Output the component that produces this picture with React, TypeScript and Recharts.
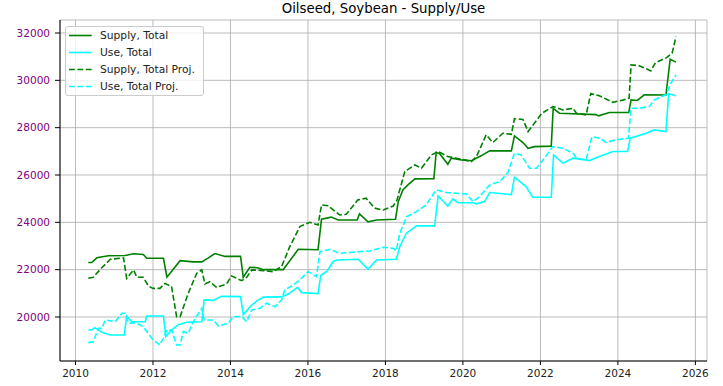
import React from "react";
import { LineChart, Line, XAxis, YAxis, CartesianGrid } from "recharts";

const xTicks = [2010, 2012, 2014, 2016, 2018, 2020, 2022, 2024, 2026];
const yTicks = [20000, 22000, 24000, 26000, 28000, 30000, 32000];

const supplyTotal: [number, number][] = [
  [2010.33, 22300], [2010.42, 22300], [2010.55, 22500], [2010.85, 22590], [2011.28, 22600],
  [2011.5, 22670], [2011.75, 22640], [2011.84, 22480], [2012.27, 22480], [2012.36, 21680],
  [2012.7, 22380], [2013.04, 22330], [2013.26, 22330], [2013.43, 22500], [2013.6, 22680],
  [2013.86, 22560], [2014.26, 22560], [2014.33, 21680], [2014.5, 22100], [2014.7, 22080],
  [2014.85, 22000], [2015.36, 22000], [2015.75, 22860], [2016.26, 22840], [2016.35, 24130],
  [2016.6, 24220], [2016.78, 24100], [2017.27, 24100], [2017.33, 24355], [2017.55, 24020],
  [2017.77, 24100], [2018.26, 24130], [2018.33, 24870], [2018.45, 25370], [2018.58, 25580],
  [2018.76, 25835], [2019.25, 25840], [2019.31, 26960], [2019.4, 26900], [2019.61, 26455],
  [2019.7, 26710], [2019.96, 26640], [2020.22, 26600], [2020.47, 26810], [2020.69, 27020],
  [2021.25, 27020], [2021.33, 27650], [2021.55, 27370], [2021.68, 27130], [2021.85, 27200],
  [2022.28, 27220], [2022.33, 28820], [2022.49, 28610], [2023.44, 28550], [2023.5, 28500],
  [2023.78, 28640], [2024.28, 28640], [2024.34, 29175], [2024.5, 29150], [2024.68, 29390],
  [2025.24, 29380], [2025.35, 30895], [2025.5, 30770],
];

const useTotal: [number, number][] = [
  [2010.33, 19450], [2010.42, 19450], [2010.5, 19550], [2010.68, 19350], [2010.9, 19240],
  [2011.26, 19240], [2011.32, 20040], [2011.45, 19800], [2011.8, 19800], [2011.84, 20040],
  [2012.27, 20040], [2012.33, 19170], [2012.48, 19450], [2012.65, 19675], [2012.87, 19775],
  [2013.26, 19800], [2013.32, 20720], [2013.55, 20700], [2013.77, 20870], [2014.26, 20860],
  [2014.33, 20100], [2014.55, 20505], [2014.7, 20700], [2014.85, 20840], [2015.32, 20850],
  [2015.5, 20980], [2015.73, 21255], [2015.84, 21030], [2016.26, 20990], [2016.33, 21750],
  [2016.5, 21950], [2016.65, 22350], [2016.75, 22410], [2017.3, 22440], [2017.55, 22015],
  [2017.77, 22410], [2018.28, 22440], [2018.37, 22970], [2018.54, 23540], [2018.8, 23850],
  [2019.27, 23850], [2019.36, 25115], [2019.61, 24690], [2019.74, 24990], [2019.87, 24830],
  [2020.26, 24830], [2020.35, 24780], [2020.56, 24875], [2020.69, 25260], [2021.25, 25170],
  [2021.33, 25905], [2021.63, 25510], [2021.8, 25060], [2022.28, 25060], [2022.34, 26850],
  [2022.58, 26500], [2022.84, 26710], [2023.27, 26610], [2023.52, 26780], [2023.87, 26990],
  [2024.25, 26990], [2024.32, 27555], [2024.73, 27765], [2024.94, 27905], [2025.24, 27835],
  [2025.31, 29430], [2025.5, 29345],
];

const supplyProj: [number, number][] = [
  [2010.33, 21635], [2010.46, 21680], [2010.64, 22015], [2010.9, 22440], [2011.24, 22500],
  [2011.32, 21635], [2011.5, 21990], [2011.58, 21680], [2011.75, 21680], [2011.88, 21310],
  [2012.0, 21210], [2012.18, 21210], [2012.31, 21420], [2012.48, 21280], [2012.61, 20015],
  [2012.7, 20015], [2012.91, 21000], [2013.13, 21850], [2013.26, 21990], [2013.34, 21395],
  [2013.47, 21490], [2013.64, 21255], [2013.9, 21395], [2014.03, 21735], [2014.29, 21535],
  [2014.42, 21680], [2014.55, 21990], [2014.85, 21960], [2015.1, 21915], [2015.32, 22130],
  [2015.53, 22970], [2015.79, 23820], [2016.05, 24000], [2016.26, 23890], [2016.35, 24735],
  [2016.52, 24700], [2016.82, 24310], [2016.99, 24340], [2017.29, 24950], [2017.5, 25020],
  [2017.72, 24600], [2017.94, 24520], [2018.2, 24690], [2018.3, 24950], [2018.5, 26150],
  [2018.76, 26425], [2018.93, 26285], [2019.19, 26850], [2019.36, 26990], [2019.61, 26780],
  [2019.83, 26710], [2020.22, 26570], [2020.35, 26780], [2020.6, 27700], [2020.77, 27370],
  [2021.03, 27765], [2021.25, 27720], [2021.33, 28380], [2021.55, 28350], [2021.68, 27835],
  [2022.04, 28610], [2022.32, 28890], [2022.58, 28750], [2022.84, 28820], [2022.93, 28610],
  [2023.18, 28540], [2023.3, 29440], [2023.52, 29350], [2023.87, 29070], [2024.15, 29175],
  [2024.29, 29250], [2024.34, 30655], [2024.55, 30615], [2024.85, 30400], [2024.97, 30750],
  [2025.25, 30950], [2025.4, 31150], [2025.5, 31850],
];

const useProj: [number, number][] = [
  [2010.33, 18915], [2010.46, 18950], [2010.59, 19520], [2010.68, 19520], [2010.77, 19875],
  [2011.02, 19800], [2011.2, 20155], [2011.28, 20155], [2011.37, 19735], [2011.54, 19760],
  [2011.75, 19590], [2011.97, 19100], [2012.17, 18815], [2012.27, 19100], [2012.36, 19450],
  [2012.48, 19450], [2012.61, 18815], [2012.7, 18815], [2012.78, 19380], [2012.91, 19310],
  [2013.04, 19800], [2013.26, 20365], [2013.32, 19875], [2013.56, 19875], [2013.69, 19620],
  [2013.94, 19735], [2014.07, 20015], [2014.29, 20015], [2014.42, 19800], [2014.55, 20295],
  [2014.76, 20365], [2014.93, 20580], [2015.15, 20435], [2015.32, 20720], [2015.4, 21140],
  [2015.62, 21350], [2015.79, 21565], [2016.0, 21915], [2016.22, 21705], [2016.31, 22760],
  [2016.57, 22860], [2016.82, 22690], [2017.05, 22720], [2017.33, 22760], [2017.6, 22790],
  [2017.94, 22945], [2018.2, 22900], [2018.28, 22800], [2018.37, 23540], [2018.55, 24240],
  [2018.8, 24450], [2019.05, 24735], [2019.31, 25370], [2019.57, 25260], [2019.83, 25230],
  [2020.09, 25200], [2020.26, 24875], [2020.43, 25085], [2020.69, 25580], [2020.95, 25720],
  [2021.16, 26100], [2021.33, 26920], [2021.5, 26850], [2021.72, 26285], [2021.9, 26285],
  [2022.1, 26710], [2022.32, 27200], [2022.58, 27130], [2022.84, 26920], [2022.93, 26710],
  [2023.18, 26640], [2023.33, 27625], [2023.52, 27555], [2023.7, 27380], [2023.95, 27485],
  [2024.27, 27555], [2024.34, 28820], [2024.55, 28820], [2024.81, 28890], [2024.94, 29175],
  [2025.24, 29390], [2025.37, 29880], [2025.5, 30230],
];

const series = [
  { name: "Supply, Total", data: supplyTotal, color: "#008000", dash: undefined as string | undefined },
  { name: "Use, Total", data: useTotal, color: "#00ffff", dash: undefined as string | undefined },
  { name: "Supply, Total Proj.", data: supplyProj, color: "#008000", dash: "5.9 2.5" },
  { name: "Use, Total Proj.", data: useProj, color: "#00ffff", dash: "5.9 2.5" },
];

const FONT = "'DejaVu Sans', 'Liberation Sans', sans-serif";
const TICK_FONT = 10.5;

export default function App() {
  return (
    <div style={{ position: "absolute", left: 0, top: 0, width: 723, height: 386, background: "#fff", fontFamily: FONT }}>
      <div style={{ position: "absolute", top: 1, left: 60, width: 647, textAlign: "center", fontSize: 13.3, lineHeight: "16px", color: "#000", whiteSpace: "nowrap" }}>
        Oilseed, Soybean - Supply/Use
      </div>
      <LineChart width={723} height={386} margin={{ top: 20, right: 16, bottom: 0, left: 0 }}>
        <CartesianGrid stroke="#b0b0b0" strokeWidth={0.85} />
        <XAxis
          dataKey="t"
          type="number"
          domain={[2009.6, 2026.3]}
          allowDataOverflow
          ticks={xTicks}
          height={25}
          tickSize={4}
          tickMargin={5}
          stroke="#000"
          tick={{ fill: "#222", fontSize: TICK_FONT, fontFamily: FONT }}
          tickLine={{ stroke: "#000" }}
          axisLine={{ stroke: "#000", strokeWidth: 1 }}
        />
        <XAxis xAxisId="top" orientation="top" type="number" domain={[2009.6, 2026.3]} height={0} tick={false} tickLine={false} axisLine={{ stroke: "#000", strokeWidth: 1 }} />
        <YAxis
          type="number"
          domain={[18140, 32550]}
          allowDataOverflow
          ticks={yTicks}
          width={60}
          tickSize={5}
          tickMargin={5}
          tick={{ fill: "#800080", fontSize: TICK_FONT, fontFamily: FONT }}
          tickLine={{ stroke: "#000" }}
          axisLine={{ stroke: "#000", strokeWidth: 1 }}
        />
        <YAxis yAxisId="right" orientation="right" type="number" domain={[18140, 32550]} width={0} tick={false} tickLine={false} axisLine={{ stroke: "#000", strokeWidth: 1 }} />
        {series.map((s) => (
          <Line
            key={s.name}
            name={s.name}
            data={s.data.map(([t, v]) => ({ t, v }))}
            dataKey="v"
            type="linear"
            stroke={s.color}
            strokeWidth={1.6}
            strokeDasharray={s.dash}
            dot={false}
            activeDot={false}
            isAnimationActive={false}
          />
        ))}
      </LineChart>
      <div
        style={{
          position: "absolute",
          left: 65,
          top: 26,
          width: 139,
          height: 70,
          border: "1px solid #cccccc",
          borderRadius: 3,
          background: "rgba(255,255,255,0.8)",
          boxSizing: "border-box",
        }}
      >
        {series.map((s) => (
          <div key={s.name} style={{ display: "flex", alignItems: "center", height: 17, fontSize: 10.7, color: "#222", whiteSpace: "nowrap" }}>
            <svg width={34} height={17} style={{ flex: "none" }}>
              <line x1={3} x2={25.7} y1={8.5} y2={8.5} stroke={s.color} strokeWidth={1.6} strokeDasharray={s.dash} />
            </svg>
            <span>{s.name}</span>
          </div>
        ))}
      </div>
    </div>
  );
}
